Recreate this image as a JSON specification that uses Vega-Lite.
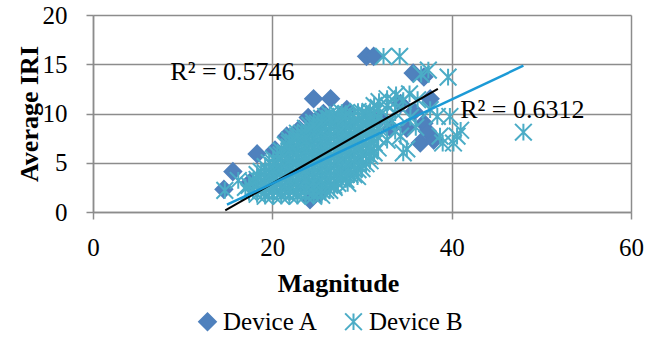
{
  "$schema": "https://vega.github.io/schema/vega-lite/v6.json",
  "width": 538,
  "height": 197,
  "autosize": {"type": "none"},
  "padding": {"left": 93, "top": 15, "right": 15, "bottom": 125},
  "config": {
    "view": {"stroke": null},
    "font": "Liberation Serif, Times New Roman, serif",
    "axis": {"labelFont": "Liberation Serif, Times New Roman, serif", "titleFont": "Liberation Serif, Times New Roman, serif"},
    "legend": {"labelFont": "Liberation Serif, Times New Roman, serif"},
    "text": {"font": "Liberation Serif, Times New Roman, serif"}
  },
  "datasets": {
    "pts": [
      {"d":"Device A","x":14.6,"y":2.3},{"d":"Device A","x":15.6,"y":4.1},{"d":"Device A","x":18.3,"y":5.9},{"d":"Device A","x":20.3,"y":6.3},
      {"d":"Device A","x":21.6,"y":7.7},{"d":"Device A","x":23.0,"y":8.4},{"d":"Device A","x":24.6,"y":11.5},{"d":"Device A","x":26.5,"y":11.5},
      {"d":"Device A","x":25.7,"y":10.0},{"d":"Device A","x":28.3,"y":10.4},{"d":"Device A","x":30.5,"y":15.8},{"d":"Device A","x":31.3,"y":15.8},
      {"d":"Device A","x":35.7,"y":14.1},{"d":"Device A","x":36.9,"y":13.7},{"d":"Device A","x":37.6,"y":11.5},{"d":"Device A","x":34.3,"y":11.0},
      {"d":"Device A","x":35.8,"y":10.2},{"d":"Device A","x":36.9,"y":9.0},{"d":"Device A","x":37.3,"y":8.2},{"d":"Device A","x":36.5,"y":7.0},
      {"d":"Device A","x":38.0,"y":7.3},{"d":"Device A","x":25.3,"y":1.9},{"d":"Device A","x":24.2,"y":1.25},{"d":"Device A","x":24.6,"y":2.6},
      {"d":"Device A","x":24.6,"y":8.6},{"d":"Device A","x":33.2,"y":8.5},{"d":"Device A","x":17.5,"y":3.0},{"d":"Device A","x":35.0,"y":8.5},
      {"d":"Device A","x":32.0,"y":9.5},{"d":"Device A","x":24.0,"y":9.6},

      {"d":"Device B","x":14.7,"y":2.2},{"d":"Device B","x":16.2,"y":3.2},{"d":"Device B","x":17.0,"y":2.5},
      {"d":"Device B","x":17.4,"y":2.0},{"d":"Device B","x":17.4,"y":2.7},
      {"d":"Device B","x":17.85,"y":2.2},{"d":"Device B","x":17.85,"y":3.1},
      {"d":"Device B","x":18.3,"y":1.8},{"d":"Device B","x":18.3,"y":2.8},{"d":"Device B","x":18.3,"y":3.8},
      {"d":"Device B","x":18.75,"y":2.2},{"d":"Device B","x":18.75,"y":3.2},{"d":"Device B","x":18.75,"y":4.1},
      {"d":"Device B","x":19.2,"y":1.6},{"d":"Device B","x":19.2,"y":2.5},{"d":"Device B","x":19.2,"y":3.5},{"d":"Device B","x":19.2,"y":4.6},
      {"d":"Device B","x":19.65,"y":2.0},{"d":"Device B","x":19.65,"y":3.0},{"d":"Device B","x":19.65,"y":4.0},{"d":"Device B","x":19.65,"y":5.0},
      {"d":"Device B","x":20.1,"y":1.7},{"d":"Device B","x":20.1,"y":2.7},{"d":"Device B","x":20.1,"y":3.7},{"d":"Device B","x":20.1,"y":4.7},{"d":"Device B","x":20.1,"y":5.4},
      {"d":"Device B","x":20.55,"y":2.1},{"d":"Device B","x":20.55,"y":3.1},{"d":"Device B","x":20.55,"y":4.1},{"d":"Device B","x":20.55,"y":5.1},{"d":"Device B","x":20.55,"y":5.8},
      {"d":"Device B","x":21.0,"y":1.6},{"d":"Device B","x":21.0,"y":2.5},{"d":"Device B","x":21.0,"y":3.5},{"d":"Device B","x":21.0,"y":4.5},{"d":"Device B","x":21.0,"y":5.4},{"d":"Device B","x":21.0,"y":6.2},
      {"d":"Device B","x":21.45,"y":2.0},{"d":"Device B","x":21.45,"y":3.0},{"d":"Device B","x":21.45,"y":4.0},{"d":"Device B","x":21.45,"y":5.0},{"d":"Device B","x":21.45,"y":6.0},{"d":"Device B","x":21.45,"y":6.8},
      {"d":"Device B","x":21.9,"y":1.7},{"d":"Device B","x":21.9,"y":2.7},{"d":"Device B","x":21.9,"y":3.7},{"d":"Device B","x":21.9,"y":4.7},{"d":"Device B","x":21.9,"y":5.7},{"d":"Device B","x":21.9,"y":6.6},{"d":"Device B","x":21.9,"y":7.3},
      {"d":"Device B","x":22.35,"y":2.1},{"d":"Device B","x":22.35,"y":3.1},{"d":"Device B","x":22.35,"y":4.1},{"d":"Device B","x":22.35,"y":5.1},{"d":"Device B","x":22.35,"y":6.1},{"d":"Device B","x":22.35,"y":7.1},{"d":"Device B","x":22.35,"y":7.6},
      {"d":"Device B","x":22.8,"y":1.6},{"d":"Device B","x":22.8,"y":2.5},{"d":"Device B","x":22.8,"y":3.5},{"d":"Device B","x":22.8,"y":4.5},{"d":"Device B","x":22.8,"y":5.5},{"d":"Device B","x":22.8,"y":6.5},{"d":"Device B","x":22.8,"y":7.4},{"d":"Device B","x":22.8,"y":8.0},
      {"d":"Device B","x":23.25,"y":2.0},{"d":"Device B","x":23.25,"y":3.0},{"d":"Device B","x":23.25,"y":4.0},{"d":"Device B","x":23.25,"y":5.0},{"d":"Device B","x":23.25,"y":6.0},{"d":"Device B","x":23.25,"y":7.0},{"d":"Device B","x":23.25,"y":8.0},
      {"d":"Device B","x":23.7,"y":1.7},{"d":"Device B","x":23.7,"y":2.7},{"d":"Device B","x":23.7,"y":3.7},{"d":"Device B","x":23.7,"y":4.7},{"d":"Device B","x":23.7,"y":5.7},{"d":"Device B","x":23.7,"y":6.7},{"d":"Device B","x":23.7,"y":7.7},{"d":"Device B","x":23.7,"y":8.5},
      {"d":"Device B","x":24.15,"y":2.1},{"d":"Device B","x":24.15,"y":3.1},{"d":"Device B","x":24.15,"y":4.1},{"d":"Device B","x":24.15,"y":5.1},{"d":"Device B","x":24.15,"y":6.1},{"d":"Device B","x":24.15,"y":7.1},{"d":"Device B","x":24.15,"y":8.1},{"d":"Device B","x":24.15,"y":8.8},
      {"d":"Device B","x":24.6,"y":1.6},{"d":"Device B","x":24.6,"y":2.5},{"d":"Device B","x":24.6,"y":3.5},{"d":"Device B","x":24.6,"y":4.5},{"d":"Device B","x":24.6,"y":5.5},{"d":"Device B","x":24.6,"y":6.5},{"d":"Device B","x":24.6,"y":7.5},{"d":"Device B","x":24.6,"y":8.4},{"d":"Device B","x":24.6,"y":9.1},
      {"d":"Device B","x":25.05,"y":2.0},{"d":"Device B","x":25.05,"y":3.0},{"d":"Device B","x":25.05,"y":4.0},{"d":"Device B","x":25.05,"y":5.0},{"d":"Device B","x":25.05,"y":6.0},{"d":"Device B","x":25.05,"y":7.0},{"d":"Device B","x":25.05,"y":8.0},{"d":"Device B","x":25.05,"y":9.0},
      {"d":"Device B","x":25.5,"y":1.7},{"d":"Device B","x":25.5,"y":2.7},{"d":"Device B","x":25.5,"y":3.7},{"d":"Device B","x":25.5,"y":4.7},{"d":"Device B","x":25.5,"y":5.7},{"d":"Device B","x":25.5,"y":6.7},{"d":"Device B","x":25.5,"y":7.7},{"d":"Device B","x":25.5,"y":8.7},{"d":"Device B","x":25.5,"y":9.5},
      {"d":"Device B","x":25.95,"y":2.2},{"d":"Device B","x":25.95,"y":3.2},{"d":"Device B","x":25.95,"y":4.2},{"d":"Device B","x":25.95,"y":5.2},{"d":"Device B","x":25.95,"y":6.2},{"d":"Device B","x":25.95,"y":7.2},{"d":"Device B","x":25.95,"y":8.2},{"d":"Device B","x":25.95,"y":9.2},{"d":"Device B","x":25.95,"y":9.7},
      {"d":"Device B","x":26.4,"y":2.2},{"d":"Device B","x":26.4,"y":3.2},{"d":"Device B","x":26.4,"y":4.2},{"d":"Device B","x":26.4,"y":5.2},{"d":"Device B","x":26.4,"y":6.2},{"d":"Device B","x":26.4,"y":7.2},{"d":"Device B","x":26.4,"y":8.2},{"d":"Device B","x":26.4,"y":9.2},{"d":"Device B","x":26.4,"y":9.9},
      {"d":"Device B","x":26.85,"y":2.7},{"d":"Device B","x":26.85,"y":3.7},{"d":"Device B","x":26.85,"y":4.7},{"d":"Device B","x":26.85,"y":5.7},{"d":"Device B","x":26.85,"y":6.7},{"d":"Device B","x":26.85,"y":7.7},{"d":"Device B","x":26.85,"y":8.7},{"d":"Device B","x":26.85,"y":9.6},
      {"d":"Device B","x":27.3,"y":2.9},{"d":"Device B","x":27.3,"y":3.9},{"d":"Device B","x":27.3,"y":4.9},{"d":"Device B","x":27.3,"y":5.9},{"d":"Device B","x":27.3,"y":6.9},{"d":"Device B","x":27.3,"y":7.9},{"d":"Device B","x":27.3,"y":8.9},{"d":"Device B","x":27.3,"y":9.9},
      {"d":"Device B","x":27.75,"y":3.4},{"d":"Device B","x":27.75,"y":4.4},{"d":"Device B","x":27.75,"y":5.4},{"d":"Device B","x":27.75,"y":6.4},{"d":"Device B","x":27.75,"y":7.4},{"d":"Device B","x":27.75,"y":8.4},{"d":"Device B","x":27.75,"y":9.4},{"d":"Device B","x":27.75,"y":10.1},
      {"d":"Device B","x":28.2,"y":3.3},{"d":"Device B","x":28.2,"y":4.3},{"d":"Device B","x":28.2,"y":5.3},{"d":"Device B","x":28.2,"y":6.3},{"d":"Device B","x":28.2,"y":7.3},{"d":"Device B","x":28.2,"y":8.3},{"d":"Device B","x":28.2,"y":9.3},{"d":"Device B","x":28.2,"y":10.0},
      {"d":"Device B","x":28.65,"y":3.8},{"d":"Device B","x":28.65,"y":4.8},{"d":"Device B","x":28.65,"y":5.8},{"d":"Device B","x":28.65,"y":6.8},{"d":"Device B","x":28.65,"y":7.8},{"d":"Device B","x":28.65,"y":8.8},{"d":"Device B","x":28.65,"y":9.7},
      {"d":"Device B","x":29.1,"y":3.8},{"d":"Device B","x":29.1,"y":4.8},{"d":"Device B","x":29.1,"y":5.8},{"d":"Device B","x":29.1,"y":6.8},{"d":"Device B","x":29.1,"y":7.8},{"d":"Device B","x":29.1,"y":8.8},{"d":"Device B","x":29.1,"y":9.8},
      {"d":"Device B","x":29.55,"y":4.3},{"d":"Device B","x":29.55,"y":5.3},{"d":"Device B","x":29.55,"y":6.3},{"d":"Device B","x":29.55,"y":7.3},{"d":"Device B","x":29.55,"y":8.3},{"d":"Device B","x":29.55,"y":9.3},{"d":"Device B","x":29.55,"y":10.2},
      {"d":"Device B","x":30.0,"y":4.4},{"d":"Device B","x":30.0,"y":5.4},{"d":"Device B","x":30.0,"y":6.4},{"d":"Device B","x":30.0,"y":7.4},{"d":"Device B","x":30.0,"y":8.4},{"d":"Device B","x":30.0,"y":9.4},{"d":"Device B","x":30.0,"y":10.1},
      {"d":"Device B","x":30.45,"y":4.9},{"d":"Device B","x":30.45,"y":5.9},{"d":"Device B","x":30.45,"y":6.9},{"d":"Device B","x":30.45,"y":7.9},{"d":"Device B","x":30.45,"y":8.9},{"d":"Device B","x":30.45,"y":9.9},
      {"d":"Device B","x":30.9,"y":5.2},{"d":"Device B","x":30.9,"y":6.2},{"d":"Device B","x":30.9,"y":7.2},{"d":"Device B","x":30.9,"y":8.2},{"d":"Device B","x":30.9,"y":9.2},{"d":"Device B","x":30.9,"y":10.2},
      {"d":"Device B","x":31.35,"y":6.0},{"d":"Device B","x":31.35,"y":7.0},{"d":"Device B","x":31.35,"y":8.0},{"d":"Device B","x":31.35,"y":9.0},{"d":"Device B","x":31.35,"y":10.0},{"d":"Device B","x":31.35,"y":10.8},
      {"d":"Device B","x":31.8,"y":6.5},{"d":"Device B","x":31.8,"y":7.6},{"d":"Device B","x":31.8,"y":8.6},{"d":"Device B","x":31.8,"y":9.6},{"d":"Device B","x":31.8,"y":10.6},
      {"d":"Device B","x":32.8,"y":7.3},{"d":"Device B","x":32.8,"y":9.0},{"d":"Device B","x":32.8,"y":10.8},
      {"d":"Device B","x":33.7,"y":8.2},{"d":"Device B","x":33.7,"y":10.1},{"d":"Device B","x":33.7,"y":11.1},

      {"d":"Device B","x":18.3,"y":2.3},{"d":"Device B","x":18.3,"y":3.3},
      {"d":"Device B","x":19.2,"y":2.0},{"d":"Device B","x":19.2,"y":3.0},{"d":"Device B","x":19.2,"y":4.0},
      {"d":"Device B","x":20.1,"y":2.2},{"d":"Device B","x":20.1,"y":3.2},{"d":"Device B","x":20.1,"y":4.2},{"d":"Device B","x":20.1,"y":5.0},
      {"d":"Device B","x":21.0,"y":2.0},{"d":"Device B","x":21.0,"y":3.0},{"d":"Device B","x":21.0,"y":4.0},{"d":"Device B","x":21.0,"y":5.0},{"d":"Device B","x":21.0,"y":5.8},
      {"d":"Device B","x":21.9,"y":2.2},{"d":"Device B","x":21.9,"y":3.2},{"d":"Device B","x":21.9,"y":4.2},{"d":"Device B","x":21.9,"y":5.2},{"d":"Device B","x":21.9,"y":6.2},{"d":"Device B","x":21.9,"y":7.0},
      {"d":"Device B","x":22.8,"y":2.0},{"d":"Device B","x":22.8,"y":3.0},{"d":"Device B","x":22.8,"y":4.0},{"d":"Device B","x":22.8,"y":5.0},{"d":"Device B","x":22.8,"y":6.0},{"d":"Device B","x":22.8,"y":7.0},{"d":"Device B","x":22.8,"y":7.7},
      {"d":"Device B","x":23.7,"y":2.2},{"d":"Device B","x":23.7,"y":3.2},{"d":"Device B","x":23.7,"y":4.2},{"d":"Device B","x":23.7,"y":5.2},{"d":"Device B","x":23.7,"y":6.2},{"d":"Device B","x":23.7,"y":7.2},{"d":"Device B","x":23.7,"y":8.1},
      {"d":"Device B","x":24.6,"y":2.0},{"d":"Device B","x":24.6,"y":3.0},{"d":"Device B","x":24.6,"y":4.0},{"d":"Device B","x":24.6,"y":5.0},{"d":"Device B","x":24.6,"y":6.0},{"d":"Device B","x":24.6,"y":7.0},{"d":"Device B","x":24.6,"y":8.0},{"d":"Device B","x":24.6,"y":8.8},
      {"d":"Device B","x":25.5,"y":2.2},{"d":"Device B","x":25.5,"y":3.2},{"d":"Device B","x":25.5,"y":4.2},{"d":"Device B","x":25.5,"y":5.2},{"d":"Device B","x":25.5,"y":6.2},{"d":"Device B","x":25.5,"y":7.2},{"d":"Device B","x":25.5,"y":8.2},{"d":"Device B","x":25.5,"y":9.1},
      {"d":"Device B","x":26.4,"y":2.7},{"d":"Device B","x":26.4,"y":3.7},{"d":"Device B","x":26.4,"y":4.7},{"d":"Device B","x":26.4,"y":5.7},{"d":"Device B","x":26.4,"y":6.7},{"d":"Device B","x":26.4,"y":7.7},{"d":"Device B","x":26.4,"y":8.7},{"d":"Device B","x":26.4,"y":9.5},
      {"d":"Device B","x":27.3,"y":3.4},{"d":"Device B","x":27.3,"y":4.4},{"d":"Device B","x":27.3,"y":5.4},{"d":"Device B","x":27.3,"y":6.4},{"d":"Device B","x":27.3,"y":7.4},{"d":"Device B","x":27.3,"y":8.4},{"d":"Device B","x":27.3,"y":9.4},
      {"d":"Device B","x":28.2,"y":3.8},{"d":"Device B","x":28.2,"y":4.8},{"d":"Device B","x":28.2,"y":5.8},{"d":"Device B","x":28.2,"y":6.8},{"d":"Device B","x":28.2,"y":7.8},{"d":"Device B","x":28.2,"y":8.8},{"d":"Device B","x":28.2,"y":9.7},
      {"d":"Device B","x":29.1,"y":4.3},{"d":"Device B","x":29.1,"y":5.3},{"d":"Device B","x":29.1,"y":6.3},{"d":"Device B","x":29.1,"y":7.3},{"d":"Device B","x":29.1,"y":8.3},{"d":"Device B","x":29.1,"y":9.3},
      {"d":"Device B","x":30.0,"y":4.9},{"d":"Device B","x":30.0,"y":5.9},{"d":"Device B","x":30.0,"y":6.9},{"d":"Device B","x":30.0,"y":7.9},{"d":"Device B","x":30.0,"y":8.9},{"d":"Device B","x":30.0,"y":9.8},
      {"d":"Device B","x":30.9,"y":5.7},{"d":"Device B","x":30.9,"y":6.7},{"d":"Device B","x":30.9,"y":7.7},{"d":"Device B","x":30.9,"y":8.7},{"d":"Device B","x":30.9,"y":9.7},

      {"d":"Device B","x":32.4,"y":15.8},{"d":"Device B","x":34.2,"y":15.8},{"d":"Device B","x":36.6,"y":14.0},{"d":"Device B","x":37.4,"y":14.4},
      {"d":"Device B","x":39.6,"y":13.7},{"d":"Device B","x":32.8,"y":11.5},{"d":"Device B","x":33.8,"y":11.9},{"d":"Device B","x":35.3,"y":12.0},
      {"d":"Device B","x":36.2,"y":11.4},{"d":"Device B","x":31.9,"y":11.2},{"d":"Device B","x":34.6,"y":11.3},{"d":"Device B","x":38.4,"y":9.7},
      {"d":"Device B","x":39.8,"y":9.7},{"d":"Device B","x":41.0,"y":8.3},{"d":"Device B","x":40.2,"y":7.0},{"d":"Device B","x":40.6,"y":7.7},
      {"d":"Device B","x":38.7,"y":7.7},{"d":"Device B","x":48.0,"y":8.1},{"d":"Device B","x":34.3,"y":7.7},{"d":"Device B","x":35.0,"y":6.4},
      {"d":"Device B","x":34.6,"y":6.0},{"d":"Device B","x":29.5,"y":3.6},{"d":"Device B","x":27.6,"y":3.6},{"d":"Device B","x":28.4,"y":2.9},
      {"d":"Device B","x":26.9,"y":2.5},{"d":"Device B","x":36.0,"y":8.6},{"d":"Device B","x":35.4,"y":9.6},{"d":"Device B","x":33.4,"y":9.2},
      {"d":"Device B","x":37.6,"y":10.4},{"d":"Device B","x":39.0,"y":7.0}
    ],
    "trendA": [{"x":14.75,"y":0.16},{"x":38.46,"y":12.49}],
    "trendB": [{"x":14.94,"y":0.74},{"x":48.0,"y":14.85}],
    "labels": [{"x":8.62,"y":13.4,"t":"R² = 0.5746"},{"x":40.95,"y":9.55,"t":"R² = 0.6312"}]
  },
  "layer": [
    {
      "data": {"name": "pts"},
      "mark": {"type": "point", "filled": true, "opacity": 1, "strokeWidth": 2, "size": 280},
      "encoding": {
        "x": {
          "field": "x", "type": "quantitative",
          "scale": {"domain": [0, 60], "nice": false, "zero": false},
          "axis": {
            "values": [0, 20, 40, 60], "grid": true, "gridColor": "#8c8c8c", "gridWidth": 1.5,
            "domainColor": "#8c8c8c", "domainWidth": 1.5, "tickColor": "#8c8c8c", "tickWidth": 1.5, "tickSize": 7,
            "labelFont": "Liberation Serif, Times New Roman, serif", "labelFontSize": 25, "labelColor": "#000", "labelBaseline": "alphabetic",
            "labelPadding": 36, "labelFlush": false, "labelOverlap": false,
            "title": "Magnitude", "titleFont": "Liberation Serif, Times New Roman, serif", "titleFontSize": 26, "titleFontWeight": "bold",
            "titleColor": "#000", "titleX": 245, "titleY": 79, "titleBaseline": "alphabetic", "titleAlign": "center"
          }
        },
        "y": {
          "field": "y", "type": "quantitative",
          "scale": {"domain": [0, 20], "nice": false, "zero": false},
          "axis": {
            "values": [0, 5, 10, 15, 20], "grid": true, "gridColor": "#8c8c8c", "gridWidth": 1.5,
            "domainColor": "#8c8c8c", "domainWidth": 1.5, "tickColor": "#8c8c8c", "tickWidth": 1.5, "tickSize": 7,
            "labelFont": "Liberation Serif, Times New Roman, serif", "labelFontSize": 25, "labelColor": "#000", "labelPadding": 19,
            "labelFlush": false, "labelOverlap": false,
            "title": "Average IRI", "titleFont": "Liberation Serif, Times New Roman, serif", "titleFontSize": 26, "titleFontWeight": "bold",
            "titleColor": "#000", "titleX": -56, "titleY": 98.5, "titleAngle": -90, "titleBaseline": "alphabetic", "titleAlign": "center"
          }
        },
        "color": {
          "field": "d", "type": "nominal",
          "scale": {"domain": ["Device A", "Device B"], "range": ["#4F81BD", "#4BACC6"]},
          "legend": {"orient": "none", "legendX": 102, "legendY": 294, "direction": "horizontal", "title": null,
            "labelFont": "Liberation Serif, Times New Roman, serif", "labelFontSize": 25, "labelColor": "#000", "symbolSize": 280,
            "symbolStrokeWidth": 2, "columnPadding": 22, "labelOffset": 3}
        },
        "stroke": {
          "field": "d", "type": "nominal",
          "scale": {"domain": ["Device A", "Device B"], "range": ["#4F81BD", "#4BACC6"]},
          "legend": {"orient": "none", "legendX": 102, "legendY": 294, "direction": "horizontal", "title": null,
            "labelFont": "Liberation Serif, Times New Roman, serif", "labelFontSize": 25, "labelColor": "#000", "symbolSize": 280,
            "symbolStrokeWidth": 2, "columnPadding": 22, "labelOffset": 3}
        },
        "shape": {
          "field": "d", "type": "nominal",
          "scale": {"domain": ["Device A", "Device B"], "range": ["diamond", "M-1,-1L1,1M-1,1L1,-1M0,-1L0,1"]},
          "legend": {"orient": "none", "legendX": 102, "legendY": 294, "direction": "horizontal", "title": null,
            "labelFont": "Liberation Serif, Times New Roman, serif", "labelFontSize": 25, "labelColor": "#000", "symbolSize": 280,
            "symbolStrokeWidth": 2, "columnPadding": 22, "labelOffset": 3}
        }
      }
    },
    {
      "data": {"name": "trendA"},
      "mark": {"type": "line", "color": "#000000", "strokeWidth": 2},
      "encoding": {"x": {"field": "x", "type": "quantitative"}, "y": {"field": "y", "type": "quantitative"}}
    },
    {
      "data": {"name": "trendB"},
      "mark": {"type": "line", "color": "#1C9AD6", "strokeWidth": 2.5},
      "encoding": {"x": {"field": "x", "type": "quantitative"}, "y": {"field": "y", "type": "quantitative"}}
    },
    {
      "data": {"name": "labels"},
      "mark": {"type": "text", "align": "left", "baseline": "alphabetic", "font": "Liberation Serif, Times New Roman, serif", "fontSize": 26, "color": "#000"},
      "encoding": {"x": {"field": "x", "type": "quantitative"}, "y": {"field": "y", "type": "quantitative"}, "text": {"field": "t"}}
    }
  ]
}
